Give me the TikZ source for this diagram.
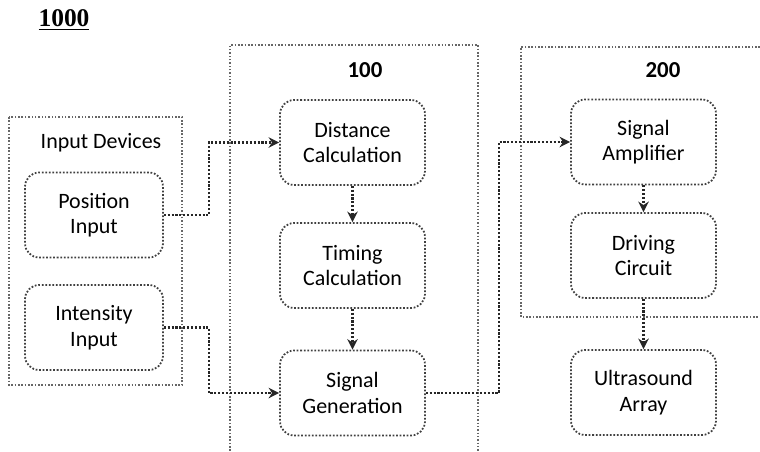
\documentclass[tikz,border=0pt]{standalone}
\usepackage{fontspec}
\setmainfont{Carlito}
\newfontfamily\figfont{Liberation Serif}
\usetikzlibrary{arrows.meta}

\begin{document}
\begin{tikzpicture}[x=0.02cm, y=-0.02cm,
        blk/.style={draw=black!75, densely dotted, line width=1pt, rounded corners=8pt,
            minimum width=2.9cm, minimum height=1.7cm, align=center,
            font=\fontsize{12.5}{14.5}\selectfont},
        grp/.style={draw=black!60, densely dotted, line width=0.9pt},
        link/.style={draw=black!85, densely dotted, line width=1.2pt, -{Stealth[length=6pt,width=6pt]}},
        lbl/.style={font=\fontsize{12.5}{14.5}\selectfont}]
            \useasboundingbox (0,0) rectangle (760,451);

            % groups
            \draw[grp] (9,117) rectangle (182,385);
            \draw[grp] (230,451) |- (478,45) -- (478,451);
            \draw[grp] (760,47) -| (521,317) -- (760,317);

            \node[font=\figfont\fontsize{14.5}{16}\selectfont\bfseries] (fig) at (64,20) {\underline{1000}};
            \node[lbl, font=\fontsize{13}{15}\selectfont\bfseries] (t100) at (365,70) {100};
            \node[lbl, font=\fontsize{13}{15}\selectfont\bfseries] (t200) at (663,70) {200};
            \node[lbl] (tin) at (101,143) {Input Devices};

            % blocks
            \node[blk, minimum width=2.76cm] (pos) at (94,215) {Position\\Input};
            \node[blk, minimum width=2.76cm] (inten) at (94,327.5) {Intensity\\Input};
            \node[blk] (dist) at (352.5,142.5) {Distance\\Calculation};
            \node[blk] (timing) at (352.5,265.5) {Timing\\Calculation};
            \node[blk] (sgen) at (352.5,393) {Signal\\Generation};
            \node[blk] (amp) at (643.5,142) {Signal\\Amplifier};
            \node[blk] (drv) at (643.5,255.5) {Driving\\Circuit};
            \node[blk] (usa) at (643.5,392.5) {Ultrasound\\Array};

            % links
            \draw[link] (pos.east) -- ++(45,0) |- (dist.west);
            \draw[link] (inten.east) -- ++(45,0) |- (sgen.west);
            \draw[link] (dist) -- (timing);
            \draw[link] (timing) -- (sgen);
            \draw[link] (sgen.east) -- ++(73,0) |- (amp.west);
            \draw[link] (amp) -- (drv);
            \draw[link] (drv) -- (usa);
        \end{tikzpicture}
\end{document}
